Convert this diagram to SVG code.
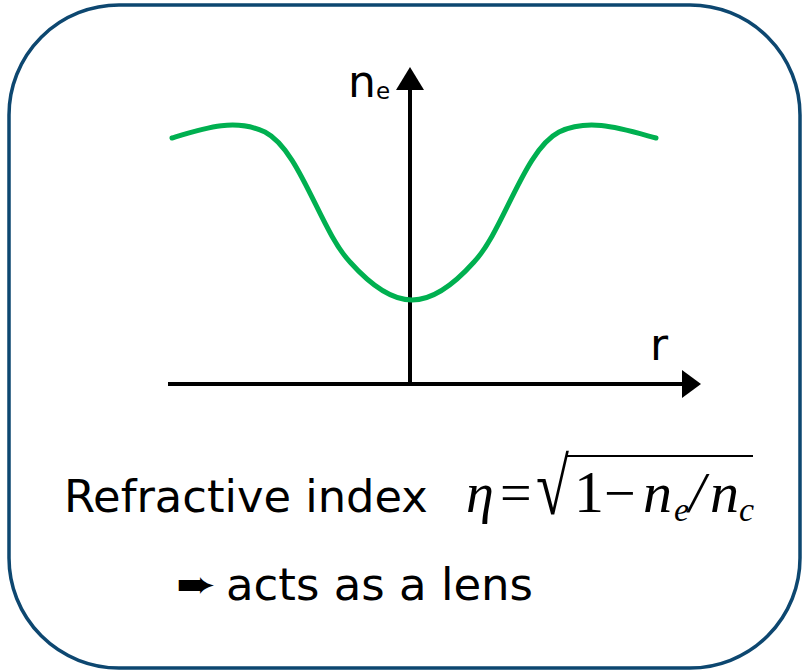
<svg xmlns="http://www.w3.org/2000/svg" width="802" height="671" viewBox="0 0 802 671">
<style>
.frame{fill:#fff;stroke:#0d4770;stroke-width:3.5}
.axis{stroke:#000;stroke-width:4;fill:none}
.curve{stroke:#00b050;stroke-width:5;fill:none;stroke-linecap:round}
.t{font-family:"DejaVu Sans",sans-serif;fill:#000}
.m{font-family:"Liberation Serif",serif;fill:#000}
</style>
<g id="frame"><rect class="frame" x="9" y="5" width="791" height="663" rx="110" ry="110"/></g>
<g id="connectors">
<line class="axis" x1="168" y1="384" x2="684" y2="384"/>
<path d="M682,370 L701,384 L682,398 Z"/>
<line class="axis" x1="410" y1="386" x2="410" y2="88"/>
<path d="M396,90 L410,67 L424,90 Z"/>
</g>
<g id="curve"><path class="curve" d="M172,138 C205,128 235,118 265,132 C300,150 320,230 350,262 C375,290 395,300 412,300 C429,300 449,290 474,262 C504,230 524,150 559,132 C589,118 619,128 656,138"/></g>
<g id="labels">
<text class="t" x="348" y="97" font-size="44">n</text>
<text class="t" x="376" y="99" font-size="23">e</text>
<text class="t" x="650" y="360" font-size="44">r</text>
<text class="t" x="64" y="512" font-size="44.8">Refractive index</text>
<g class="m">
<text x="466" y="512" font-size="56" font-style="italic">η</text>
<text x="500" y="512" font-size="56">=</text>
<text x="0" y="0" font-size="80" transform="translate(536,514) scale(0.75,1)">√</text>
<line x1="566" y1="456" x2="753" y2="456" stroke="#000" stroke-width="2.2"/>
<text x="574" y="512" font-size="60">1</text>
<text x="604" y="512" font-size="56">−</text>
<text x="643" y="512" font-size="58" font-style="italic">n</text>
<text x="674" y="521" font-size="34" font-style="italic">e</text>
<text x="689" y="512" font-size="58" font-style="italic">/</text>
<text x="710" y="512" font-size="58" font-style="italic">n</text>
<text x="739" y="521" font-size="34" font-style="italic">c</text>
</g>
<text class="t" x="0" y="0" font-size="40" transform="translate(176,598) scale(1.2,1)">➨</text>
<text class="t" x="226" y="600" font-size="45">acts as a lens</text>
</g>
</svg>
